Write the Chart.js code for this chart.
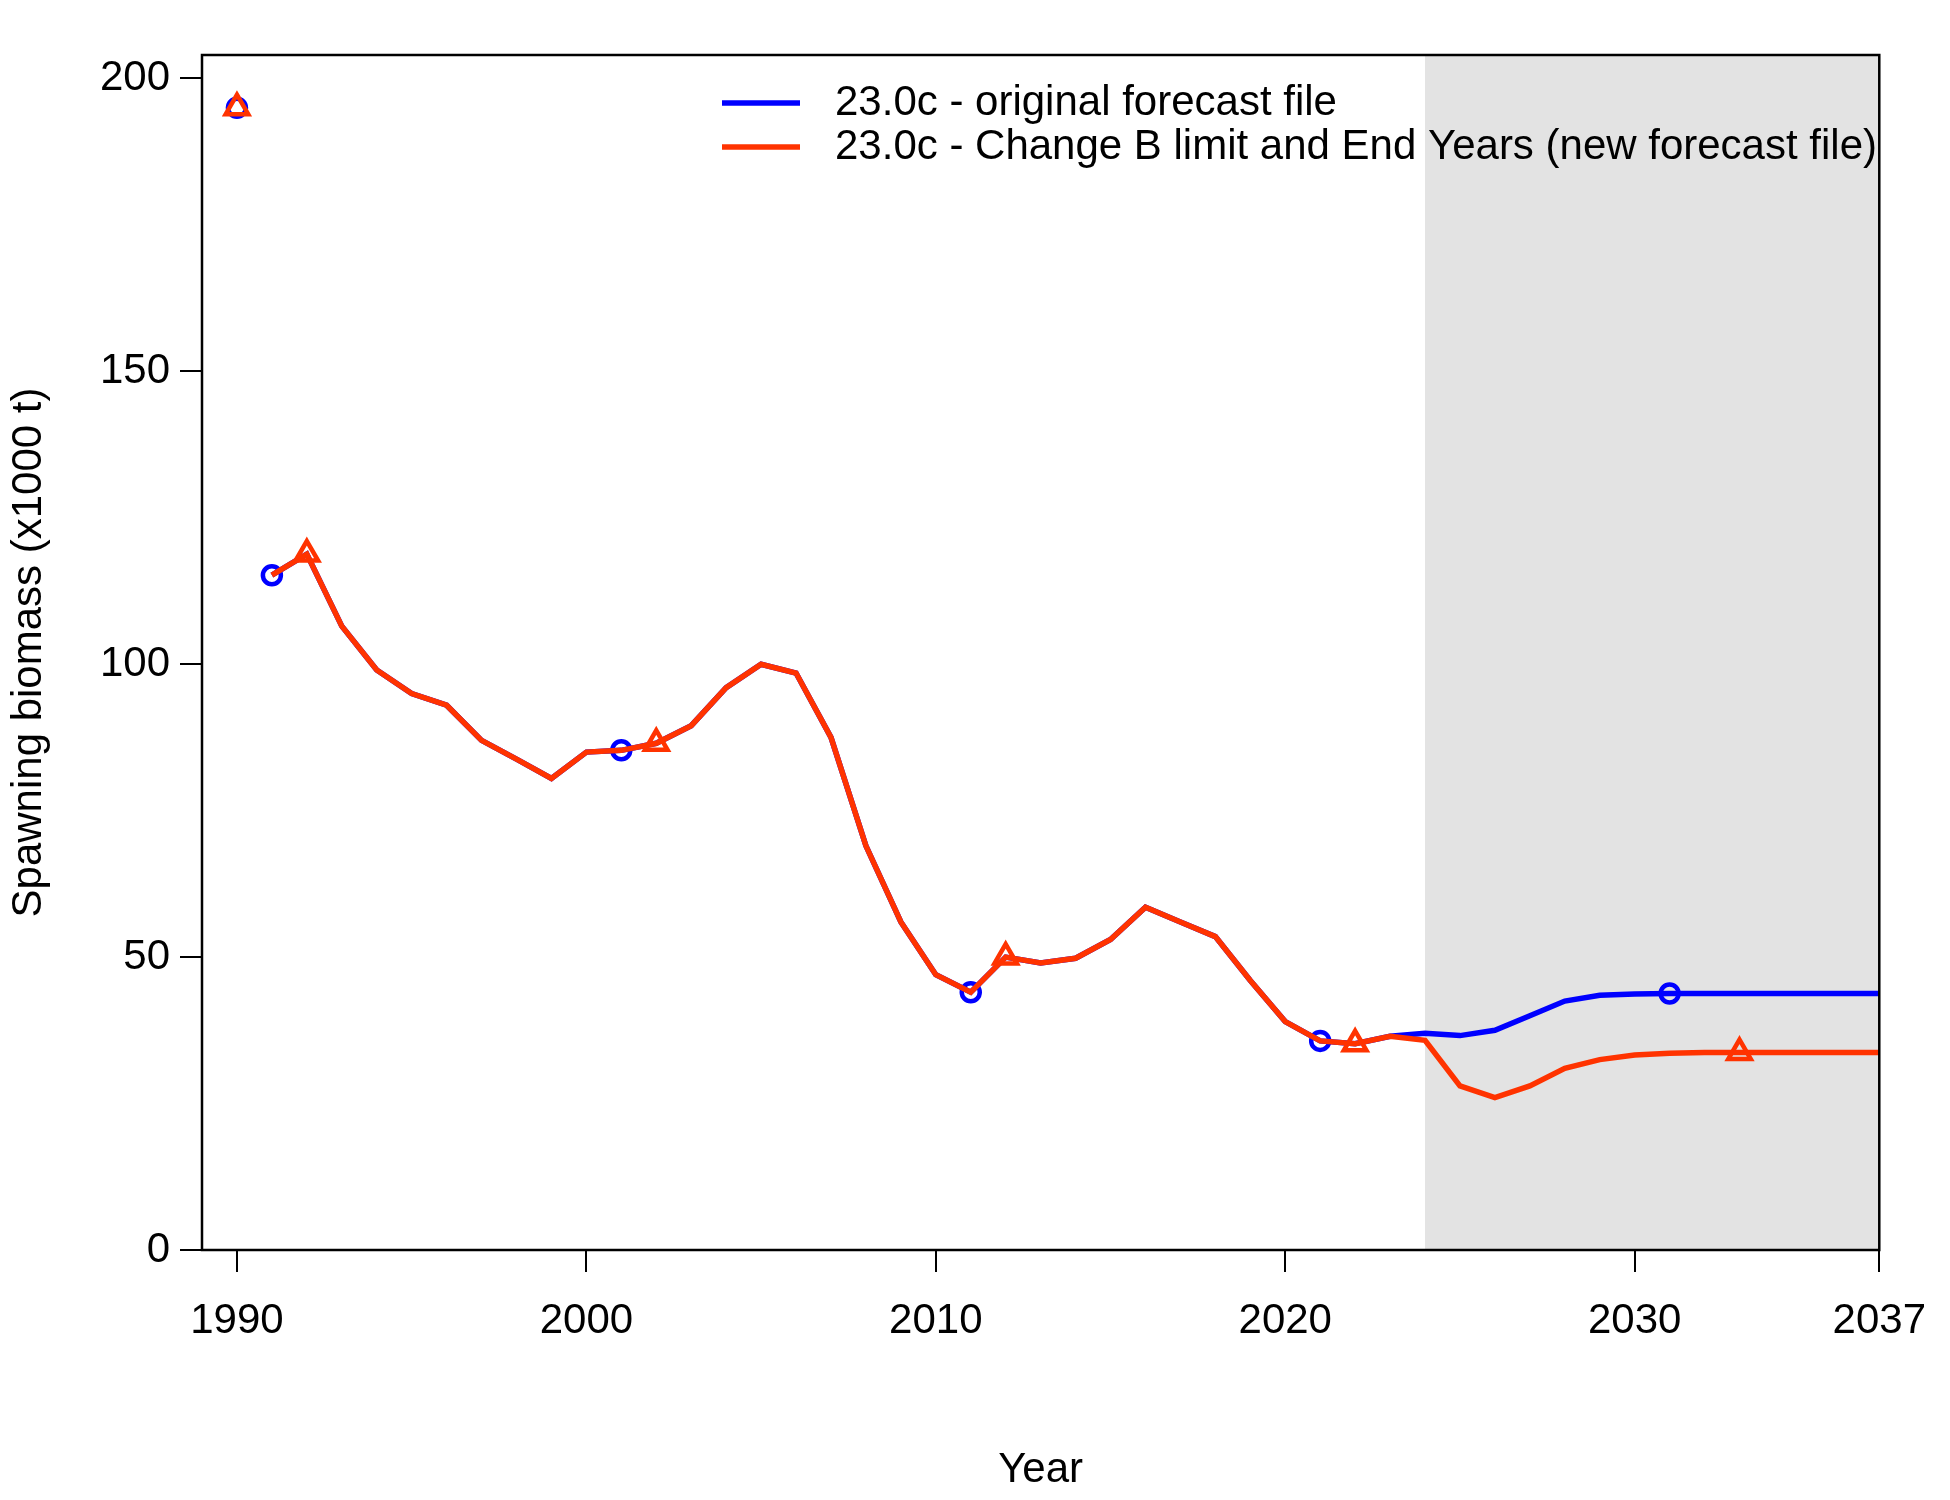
<!DOCTYPE html>
<html><head><meta charset="utf-8">
<script src="https://cdn.jsdelivr.net/npm/chart.js@4"></script>
<style>html,body{margin:0;background:#fff}#w{width:1950px;height:1500px}</style>
</head><body><div id="w"><canvas id="c"></canvas></div>
<script>
const years = [];
for (let y = 1990; y <= 2037; y++) years.push(y);
const redValues = [195,115.2,118.8,106.5,99,95,93,87,83.8,80.5,85,85.3,86.5,89.5,96,100,98.5,87.5,69,56,47,44,50,49,49.8,53,58.5,56,53.5,46,39,35.7,35.2,36.5,35.8,28,26,28,31,32.5,33.3,33.6,33.7,33.7,33.7,33.7,33.7,33.7];
const blueValues = [195,115.2,118.8,106.5,99,95,93,87,83.8,80.5,85,85.3,86.5,89.5,96,100,98.5,87.5,69,56,47,44,50,49,49.8,53,58.5,56,53.5,46,39,35.7,35.2,36.5,37,36.6,37.5,40,42.5,43.5,43.7,43.8,43.8,43.8,43.8,43.8,43.8,43.8];
const blueMarkerYears = [1990,1991,2001,2011,2021,2031];
const redMarkerYears = [1990,1992,2002,2012,2022,2033];
const xTicks = [1990,2000,2010,2020,2030,2037];
const yTicks = [0,50,100,150,200];
const forecastStart = 2024, forecastEnd = 2037;
const labels = ['23.0c - original forecast file','23.0c - Change B limit and End Years (new forecast file)'];
const BLUE = '#0000ff', RED = '#ff3300';
const FONT = 'Liberation Sans, Arial, sans-serif';

function ds(vals, mk, color, style, label, order){
  return {label, order, data: years.map((y,i)=>({x:y,y:vals[i]})), borderColor: color, borderWidth: 5.5,
    pointStyle: style, pointBorderColor: color, pointBackgroundColor:'transparent', pointBorderWidth: 4.5,
    pointRadius: ctx => mk.includes(years[ctx.dataIndex]) ? (style==='triangle'?13:9) : 0,
    pointHoverRadius:0, tension:0,
    segment:{borderColor: ctx => ctx.p0.parsed.x===1990 ? 'rgba(0,0,0,0)' : color}};
}

const plugin = {
  id:'deco',
  beforeDatasetsDraw(ch){
    const {ctx, chartArea:a, scales:{x}} = ch;
    ctx.save(); ctx.fillStyle='#e3e3e3';
    const x0 = x.getPixelForValue(forecastStart), x1 = x.getPixelForValue(forecastEnd);
    ctx.fillRect(x0, a.top, x1-x0, a.bottom-a.top); ctx.restore();
  },
  afterDraw(ch){
    const {ctx, chartArea:a} = ch;
    ctx.save(); ctx.strokeStyle='#000'; ctx.lineWidth=2.5;
    ctx.strokeRect(a.left, a.top, a.right-a.left, a.bottom-a.top);
    ctx.font = '42px '+FONT; ctx.textBaseline='middle'; ctx.fillStyle='#000';
    const rows = [[BLUE,labels[0],103],[RED,labels[1],147]];
    rows.forEach(([c,t,y])=>{ctx.strokeStyle=c; ctx.lineWidth=5.5; ctx.beginPath(); ctx.moveTo(722,y); ctx.lineTo(800,y); ctx.stroke(); ctx.fillText(t,835,y);});
    ctx.restore();
  }
};

new Chart(document.getElementById('c'), {
  type:'line',
  data:{datasets:[ds(blueValues,blueMarkerYears,BLUE,'circle',labels[0],2), ds(redValues,redMarkerYears,RED,'triangle',labels[1],1)]},
  options:{responsive:true, maintainAspectRatio:false, animation:false,
    layout:{padding:{top:55,right:28,left:0,bottom:0}},
    plugins:{legend:{display:false}, tooltip:{enabled:false}},
    scales:{
      x:{type:'linear', min:1989, max:2037, grid:{display:true, drawOnChartArea:false, drawTicks:true, tickLength:22, color:'#000', lineWidth:2},
        border:{display:false},
        afterBuildTicks:s=>{s.ticks=xTicks.map(v=>({value:v}));},
        afterFit:s=>{s.height=250;},
        ticks:{color:'#000', font:{size:42, family:FONT}, padding:24, maxRotation:0, autoSkip:false, callback:v=>String(v)},
        title:{display:true, text:'Year', color:'#000', font:{size:42, family:FONT}, padding:{top:30}}},
      y:{min:0, max:204, grid:{display:true, drawOnChartArea:false, tickLength:22, color:'#000', lineWidth:2},
        border:{display:false},
        afterBuildTicks:s=>{s.ticks=yTicks.map(v=>({value:v}));},
        afterFit:s=>{s.width=202;},
        ticks:{color:'#000', font:{size:42, family:FONT}, padding:10, callback:v=>String(v)},
        title:{display:true, text:'Spawning biomass (x1000 t)', color:'#000', font:{size:42, family:FONT}, padding:{bottom:6}}}
    }},
  plugins:[plugin]
});
</script></body></html>
